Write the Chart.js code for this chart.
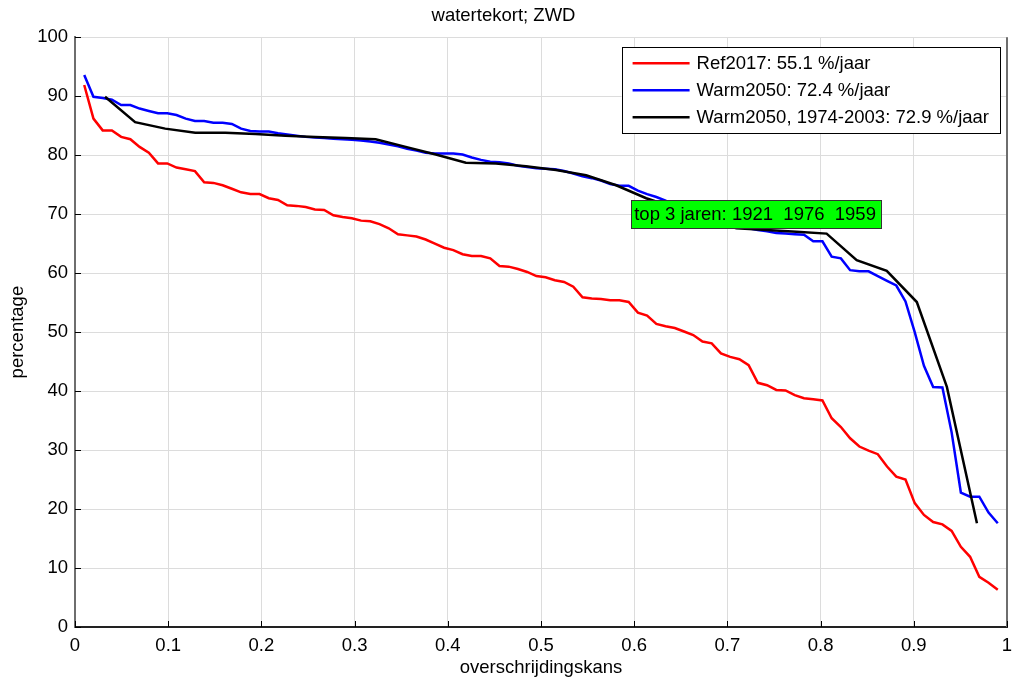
<!DOCTYPE HTML>
<html>
<head>
  <meta charset='utf-8'>
  <title>watertekort; ZWD</title>
  <script src='https://cdn.jsdelivr.net/npm/chart.js'></script>
  <style>
    body {
      margin: 0;
      padding: 0;
      background-color: #fff;
    }
  </style>
</head>
<body>
  <canvas id='kansChart' width='1016' height='680'></canvas>
  <script>
    // watertekort in % per jaar, gesorteerd van groot naar klein
    var ref2017 = [
      91.9, 86.2, 84.2, 84.2, 83.1, 82.7, 81.4, 80.4, 78.6, 78.6,
      77.9, 77.6, 77.3, 75.4, 75.3, 74.9, 74.3, 73.7, 73.4, 73.4,
      72.7, 72.4, 71.5, 71.4, 71.2, 70.8, 70.7, 69.8, 69.5, 69.3,
      68.9, 68.8, 68.3, 67.6, 66.6, 66.4, 66.2, 65.7, 65.0, 64.3,
      63.9, 63.2, 62.9, 62.9, 62.5, 61.2, 61.1, 60.7, 60.2, 59.5,
      59.3, 58.8, 58.5, 57.7, 55.9, 55.7, 55.6, 55.4, 55.4, 55.1,
      53.3, 52.8, 51.4, 51.0, 50.7, 50.1, 49.5, 48.4, 48.1, 46.4,
      45.8, 45.4, 44.4, 41.4, 41.0, 40.2, 40.1, 39.3, 38.8, 38.6,
      38.4, 35.4, 33.9, 32.0, 30.6, 29.9, 29.3, 27.2, 25.5, 25.0,
      21.0, 19.0, 17.8, 17.4, 16.3, 13.6, 11.9, 8.5, 7.5, 6.3
    ];
    var warm2050 = [
      93.6, 89.9, 89.7, 89.4, 88.5, 88.5, 87.9, 87.5, 87.1, 87.1,
      86.8, 86.2, 85.8, 85.8, 85.5, 85.5, 85.3, 84.5, 84.1, 84.0,
      84.0, 83.7, 83.5, 83.3, 83.1, 83.0, 82.9, 82.8, 82.7, 82.6,
      82.5, 82.3, 82.1, 81.8, 81.5, 81.1, 80.8, 80.4, 80.3, 80.3,
      80.3, 80.1, 79.6, 79.2, 78.9, 78.8, 78.6, 78.2, 78.0, 77.8,
      77.7, 77.6, 77.3, 76.9, 76.4, 76.1, 75.7, 75.1, 74.8, 74.8,
      74.0, 73.4, 72.9, 72.3, 71.4, 70.6, 69.9, 69.2, 68.7, 68.3,
      68.0, 67.8, 67.6, 67.3, 67.1, 66.8, 66.7, 66.6, 66.5, 65.4,
      65.4, 62.8, 62.5, 60.5, 60.3, 60.3, 59.5, 58.7, 57.9, 55.2,
      50.0, 44.3, 40.7, 40.6, 33.0, 22.8, 22.1, 22.1, 19.4, 17.6
    ];
    var warm2050kort = [
      89.9, 85.6, 84.5, 83.8, 83.8, 83.6, 83.3, 83.1, 82.9, 82.7,
      81.4, 80.1, 78.7, 78.6, 78.1, 77.5, 76.6, 74.9, 72.7, 71.0,
      69.0, 67.6, 67.3, 67.0, 66.7, 62.2, 60.4, 55.1, 40.7, 17.6
    ];
    var reeksNamen = ['Ref2017: 55.1 %/jaar', 'Warm2050: 72.4 %/jaar', 'Warm2050, 1974-2003: 72.9 %/jaar'];
    var reeksKleuren = ['#ff0000', '#0000ff', '#000000'];
    var topJaren = [1921, 1976, 1959];
    var labelKans = 0.6;
    var labelWaarde = 70;

    // overschrijdingskans per rang: i / (n + 1)
    function metKans(reeks) {
      return reeks.map(function (v, i) {
        return { x: (i + 1) / (reeks.length + 1), y: v };
      });
    }

    var fontNaam = "'Liberation Sans', Arial, sans-serif";
    var fontMaat = 18.5;
    Chart.defaults.font.family = fontNaam;
    Chart.defaults.font.size = fontMaat;
    Chart.defaults.color = '#000';

    var extraPlugin = {
      id: 'extra',
      afterDraw: function (chart) {
        var ctx = chart.ctx;
        var a = chart.chartArea;
        var sx = chart.scales.x;
        var sy = chart.scales.y;
        ctx.save();

        // rechterrand
        ctx.strokeStyle = '#6e6e6e';
        ctx.lineWidth = 2;
        ctx.beginPath();
        ctx.moveTo(a.right, a.top);
        ctx.lineTo(a.right, a.bottom);
        ctx.stroke();

        // tickjes naar binnen
        ctx.strokeStyle = '#000';
        ctx.lineWidth = 1;
        ctx.beginPath();
        sy.ticks.forEach(function (t) {
          var y = Math.round(sy.getPixelForValue(t.value)) + 0.5;
          ctx.moveTo(a.left, y);
          ctx.lineTo(a.left + 6, y);
        });
        sx.ticks.forEach(function (t) {
          var x = Math.round(sx.getPixelForValue(t.value)) + 0.5;
          ctx.moveTo(x, a.bottom);
          ctx.lineTo(x, a.bottom - 6);
        });
        ctx.stroke();

        ctx.font = fontMaat + 'px ' + fontNaam;
        ctx.textBaseline = 'middle';
        ctx.textAlign = 'left';

        // groen label
        var tekst = 'top 3 jaren: ' + topJaren.join('  ');
        var lx = sx.getPixelForValue(labelKans);
        var ly = sy.getPixelForValue(labelWaarde);
        var tw = ctx.measureText(tekst).width;
        ctx.fillStyle = '#00ff00';
        ctx.fillRect(lx - 3, ly - 14, tw + 8, 28);
        ctx.strokeStyle = '#333';
        ctx.strokeRect(Math.round(lx - 3) + 0.5, Math.round(ly - 14) + 0.5, Math.round(tw + 8), 28);
        ctx.fillStyle = '#000';
        ctx.fillText(tekst, lx, ly + 1);

        // legenda
        var breed = 0;
        reeksNamen.forEach(function (n) {
          breed = Math.max(breed, ctx.measureText(n).width);
        });
        var bw = 75 + breed + 11;
        var bh = 86;
        var bx = a.right - 7 - bw;
        var by = a.top + 10;
        ctx.fillStyle = '#fff';
        ctx.fillRect(bx, by, bw, bh);
        ctx.strokeStyle = '#000';
        ctx.lineWidth = 1;
        ctx.strokeRect(Math.round(bx) + 0.5, Math.round(by) + 0.5, Math.round(bw), bh);
        reeksNamen.forEach(function (n, i) {
          var ry = by + 16 + i * 27;
          ctx.strokeStyle = reeksKleuren[i];
          ctx.lineWidth = 2.5;
          ctx.beginPath();
          ctx.moveTo(bx + 11, ry);
          ctx.lineTo(bx + 68, ry);
          ctx.stroke();
          ctx.fillStyle = '#000';
          ctx.fillText(n, bx + 75, ry + 1);
        });
        ctx.restore();
      }
    };

    var ctx = document.getElementById('kansChart').getContext('2d');
    var kansChart = new Chart(ctx, {
      type: 'line',
      data: {
        datasets: [
          { label: reeksNamen[0], data: metKans(ref2017), borderColor: reeksKleuren[0], order: 3 },
          { label: reeksNamen[1], data: metKans(warm2050), borderColor: reeksKleuren[1], order: 2 },
          { label: reeksNamen[2], data: metKans(warm2050kort), borderColor: reeksKleuren[2], order: 1 }
        ]
      },
      options: {
        responsive: false,
        animation: false,
        layout: { padding: { left: 0, right: 9, top: 0, bottom: 0 } },
        elements: {
          line: { borderWidth: 2.5, tension: 0, fill: false },
          point: { radius: 0 }
        },
        plugins: {
          legend: { display: false },
          tooltip: { enabled: false },
          title: {
            display: true,
            text: 'watertekort; ZWD',
            font: { size: fontMaat, weight: 'normal' },
            padding: { top: 5, bottom: 10 }
          }
        },
        scales: {
          x: {
            type: 'linear',
            min: 0,
            max: 1,
            ticks: {
              stepSize: 0.1,
              padding: 8,
              maxRotation: 0,
              autoSkip: false,
              callback: function (v) { return String(parseFloat(v.toFixed(1))); }
            },
            grid: { color: '#dcdcdc', lineWidth: 1, drawTicks: false },
            border: { color: '#222', width: 2 },
            title: { display: true, text: 'overschrijdingskans', padding: { top: 0, bottom: 1 } },
            afterFit: function (s) {
              s.height = 53;
              s.paddingRight = 0;
            }
          },
          y: {
            min: 0,
            max: 100,
            ticks: { stepSize: 10, padding: 7 },
            grid: { color: '#dcdcdc', lineWidth: 1, drawTicks: false },
            border: { color: '#6e6e6e', width: 2 },
            title: { display: true, text: 'percentage', padding: { top: 7, bottom: 0 } },
            afterFit: function (s) { s.width = 75; }
          }
        }
      },
      plugins: [extraPlugin]
    });
  </script>
</body>
</html>
